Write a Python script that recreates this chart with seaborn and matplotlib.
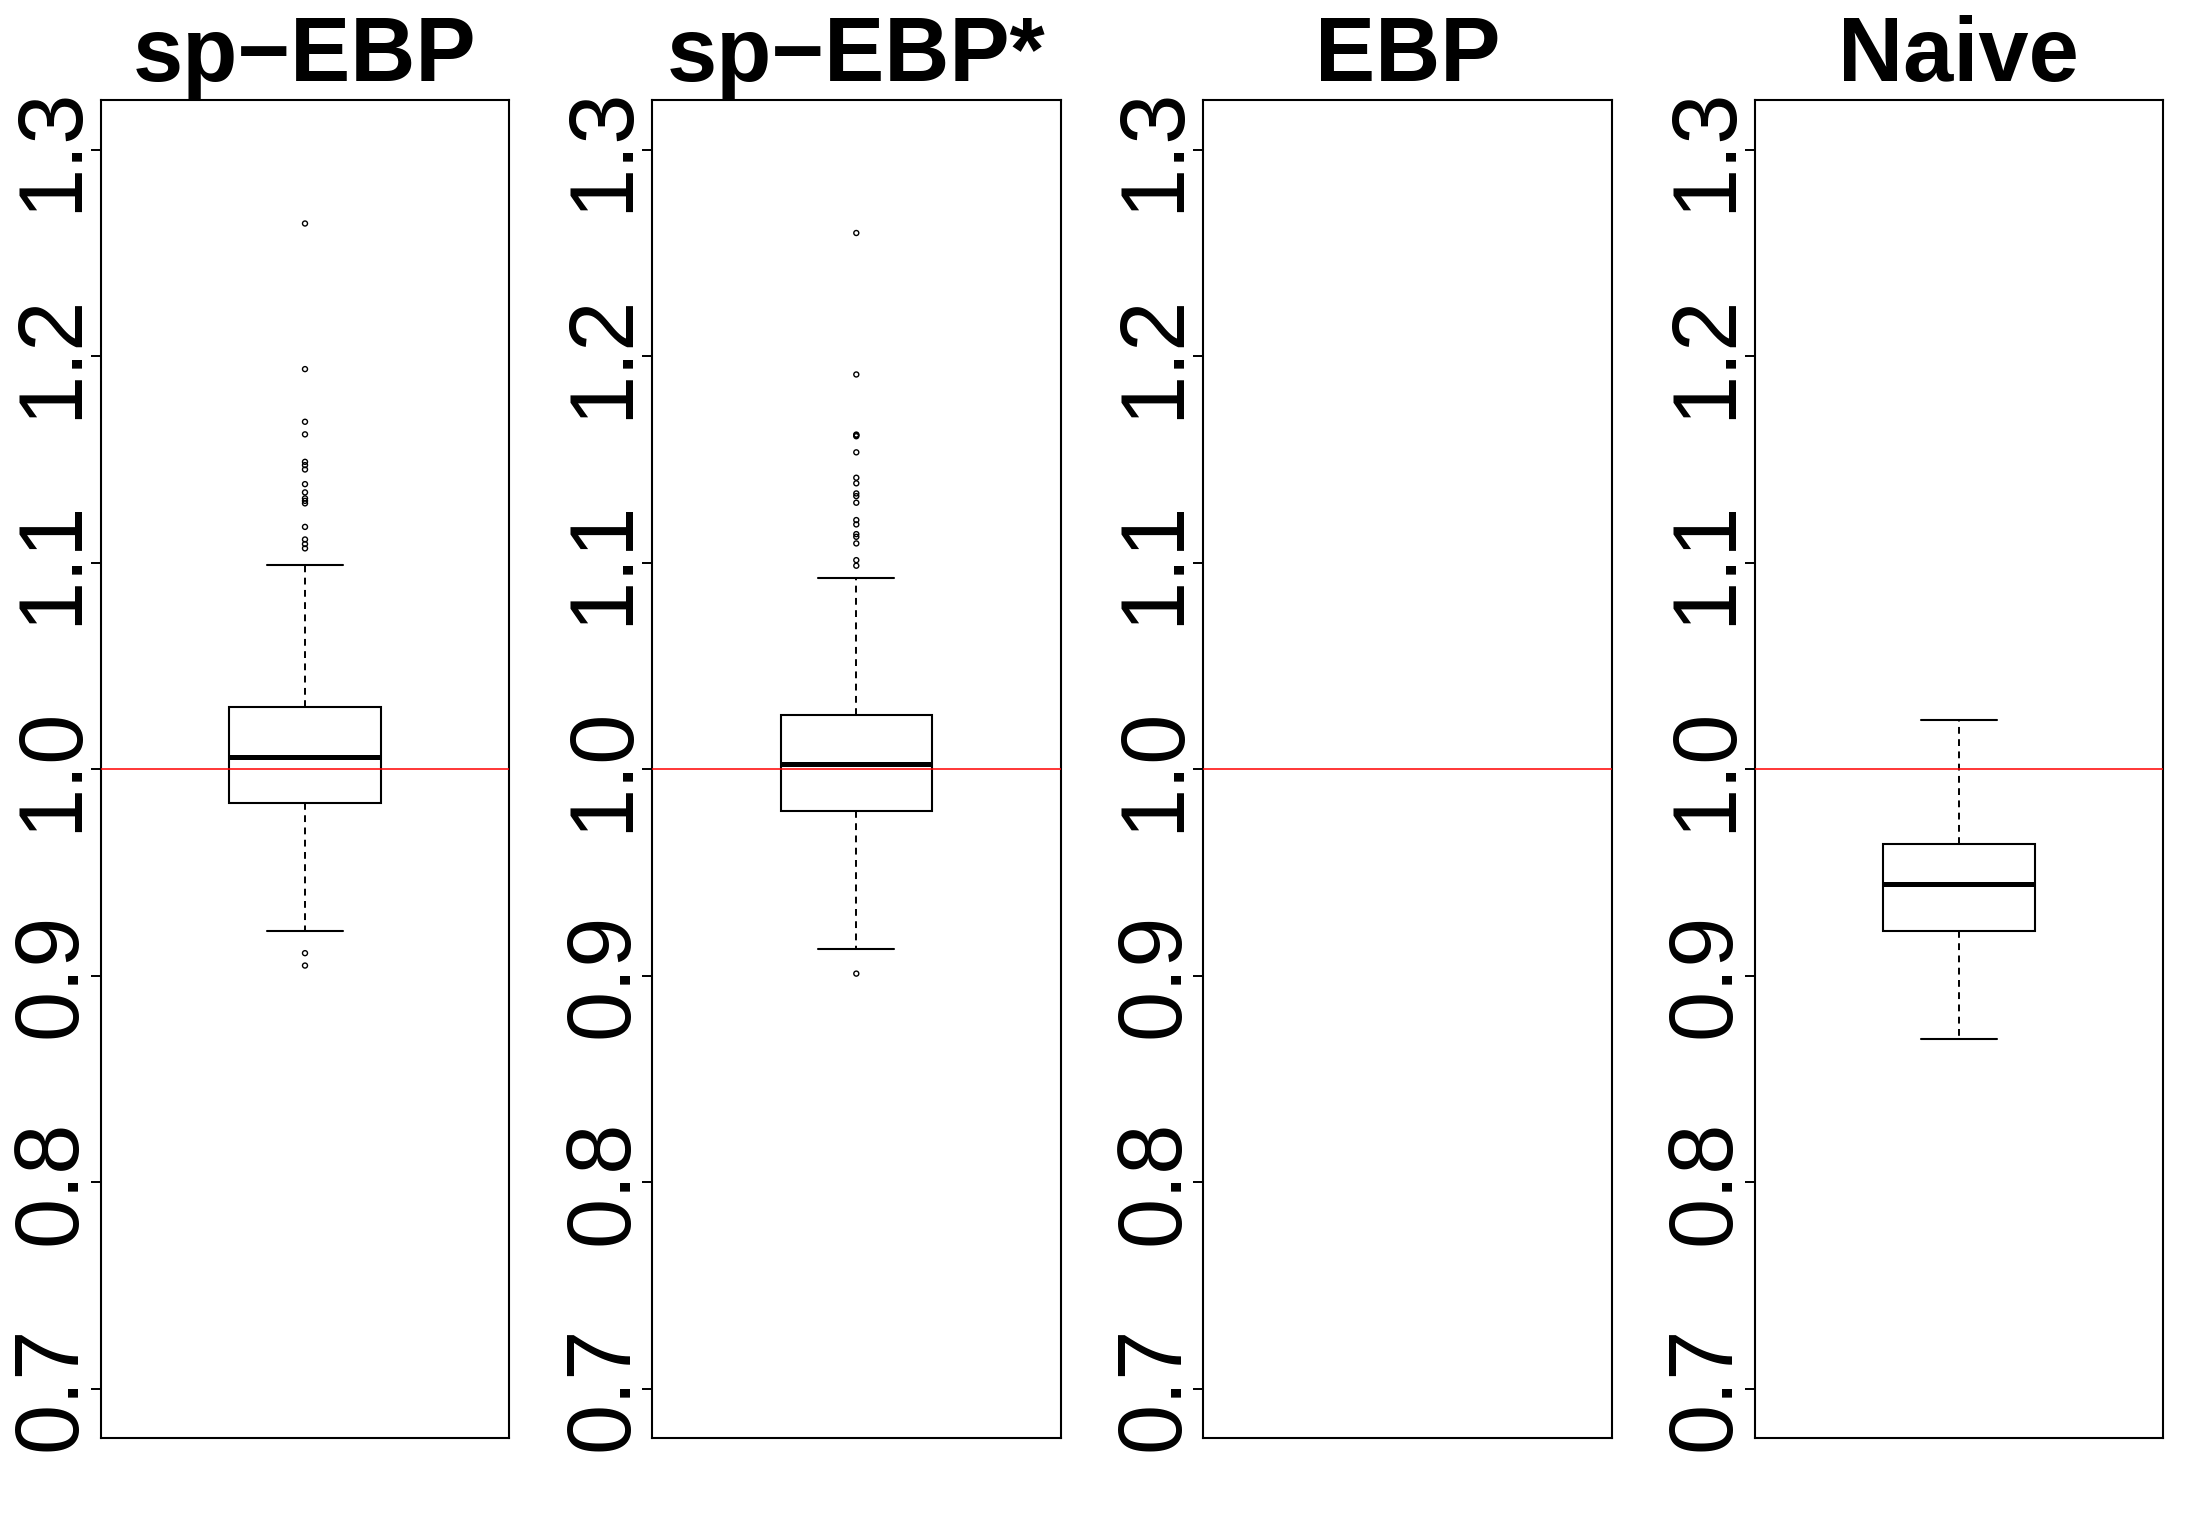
import matplotlib
matplotlib.use("Agg")
import matplotlib.pyplot as plt
import seaborn as sns
import numpy as np

# ---------------- data ----------------
methods = ["sp\u2212EBP", "sp\u2212EBP*", "EBP", "Naive"]

# five-number summaries (lower whisker, Q1, median, Q3, upper whisker)
sp_ebp_summary = [0.9217, 0.9835, 1.0060, 1.0302, 1.0988]
sp_ebp_star_summary = [0.9131, 0.9799, 1.0025, 1.0264, 1.0924]
ebp_summary = []          # nothing visible inside the plotted range
naive_summary = [0.8694, 0.9218, 0.9443, 0.9639, 1.0238]

sp_ebp_outliers = [1.2642, 1.1937, 1.1682, 1.1621, 1.1488, 1.1472, 1.1451,
                   1.1380, 1.1340, 1.1311, 1.1299, 1.1287, 1.1173, 1.1112,
                   1.1090, 1.1069, 0.9109, 0.9049]
sp_ebp_star_outliers = [1.2596, 1.1911, 1.1620, 1.1617, 1.1612, 1.1534,
                        1.1411, 1.1384, 1.1335, 1.1322, 1.1290, 1.1206,
                        1.1185, 1.1138, 1.1125, 1.1093, 1.1012, 1.0985,
                        0.9010]
ebp_outliers = []
naive_outliers = []

summaries = [sp_ebp_summary, sp_ebp_star_summary, ebp_summary, naive_summary]
outliers = [sp_ebp_outliers, sp_ebp_star_outliers, ebp_outliers, naive_outliers]

y_ticks = [0.7, 0.8, 0.9, 1.0, 1.1, 1.2, 1.3]
y_tick_labels = ["0.7", "0.8", "0.9", "1.0", "1.1", "1.2", "1.3"]
y_limits = (0.676, 1.324)
reference_value = 1.0

# ---------------- style ----------------
sns.set_theme(style="white")
plt.rcParams["font.family"] = ["Liberation Sans", "DejaVu Sans"]
plt.rcParams["text.color"] = "black"
plt.rcParams["axes.labelcolor"] = "black"
plt.rcParams["axes.titlecolor"] = "black"

W, H, DPI = 2203, 1540, 100
fig = plt.figure(figsize=(W / DPI, H / DPI), dpi=DPI)

ax_left0 = 100.7 / W
ax_step = 551.3 / W
ax_w = 408.6 / W
ax_bottom = 1 - 1438.3 / H
ax_h = (1438.3 - 100.0) / H

for i, (name, summ, outs) in enumerate(zip(methods, summaries, outliers)):
    ax = fig.add_axes([ax_left0 + i * ax_step, ax_bottom, ax_w, ax_h])
    if len(summ):
        sns.boxplot(y=summ, whis=(0, 100), width=0.4, ax=ax,
                    color="white", linecolor="black", linewidth=1.5,
                    medianprops=dict(linewidth=3.6, color="black",
                                     solid_capstyle="butt"),
                    whiskerprops=dict(linestyle=(0, (3.5, 2.8)), linewidth=1.4),
                    capprops=dict(linewidth=1.5),
                    capwidths=0.2)
    if len(outs):
        sns.scatterplot(x=np.zeros(len(outs)), y=outs, ax=ax, marker="o",
                        s=13, facecolor="none", edgecolor="black",
                        linewidth=1.0, color="black", legend=False, zorder=4)
    ax.axhline(reference_value, color="#ff0000", linewidth=1.1, zorder=6)

    ax.set_xlim(-0.54, 0.54)
    ax.set_ylim(*y_limits)
    ax.set_xticks([])
    ax.set_yticks(y_ticks)
    ax.set_yticklabels(y_tick_labels, rotation=90, va="center", fontsize=65)
    ax.tick_params(axis="y", left=True, length=7.2, width=1.4, pad=-3,
                   color="black", labelcolor="black")
    ax.set_xlabel("")
    ax.set_ylabel("")
    for sp in ax.spines.values():
        sp.set_visible(True)
        sp.set_color("black")
        sp.set_linewidth(1.5)
    ax.set_title(name, fontsize=65, fontweight="bold", pad=11.5, color="black")

fig.savefig("out.png", dpi=DPI, facecolor="white")
